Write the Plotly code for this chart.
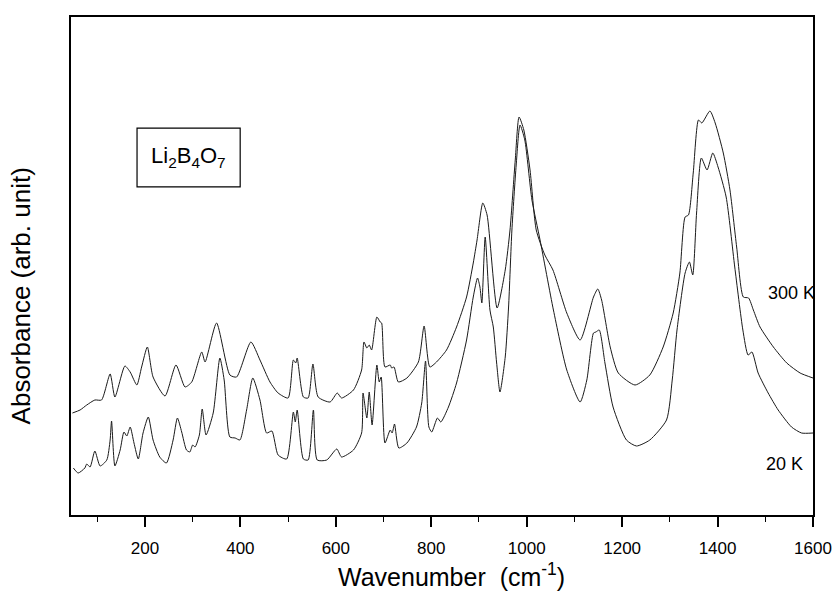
import plotly.graph_objects as go

# 300 K spectrum (upper curve): wavenumber (cm^-1), absorbance (arb. unit)
wn_300 = [48, 64, 78, 95, 109, 127, 137, 158, 169, 183, 193, 205, 217, 242, 265, 284, 298, 319, 326, 350,
          378, 392, 422, 441, 462, 479, 500, 511, 516, 519, 532, 542, 552, 563, 588, 603, 612, 637, 654, 659,
          665, 670, 675, 686, 693, 696, 703, 714, 717, 722, 731, 749, 773, 785, 797, 811, 832, 853, 874, 888,
          896, 908, 917, 938, 955, 965, 976, 984, 994, 1007, 1020, 1038, 1055, 1084, 1112, 1140, 1149, 1157,
          1175, 1192, 1227, 1258, 1286, 1307, 1321, 1332, 1339, 1349, 1360, 1367, 1384, 1395, 1412, 1426, 1440,
          1454, 1465, 1475, 1489, 1517, 1545, 1573, 1600]
abs_300 = [1.02, 1.05, 1.10, 1.15, 1.15, 1.41, 1.18, 1.49, 1.43, 1.30, 1.48, 1.68, 1.38, 1.19, 1.50, 1.28, 1.33, 1.63, 1.53, 1.92,
           1.40, 1.38, 1.73, 1.55, 1.33, 1.22, 1.17, 1.55, 1.52, 1.57, 1.18, 1.17, 1.51, 1.18, 1.13, 1.22, 1.17, 1.25, 1.45, 1.73,
           1.67, 1.70, 1.65, 1.98, 1.93, 1.92, 1.48, 1.50, 1.47, 1.48, 1.33, 1.37, 1.53, 1.89, 1.48, 1.53, 1.65, 1.88, 2.18, 2.52,
           2.75, 3.12, 3.00, 2.07, 2.45, 2.85, 3.55, 3.98, 3.85, 3.45, 2.85, 2.60, 2.45, 2.02, 1.75, 2.18, 2.26, 2.15,
           1.68, 1.42, 1.30, 1.40, 1.68, 2.02, 2.42, 2.98, 3.00, 3.42, 3.95, 3.92, 4.04, 3.92, 3.62, 3.25, 2.68,
           2.18, 2.17, 2.05, 1.88, 1.68, 1.52, 1.42, 1.37]

# 20 K spectrum (lower curve)
wn_20 = [50, 60, 74, 78, 85, 95, 106, 120, 127, 130, 137, 148, 156, 162, 169, 177, 186, 196, 207, 217,
         231, 245, 259, 268, 277, 287, 294, 300, 305, 314, 320, 328, 343, 357, 366, 378, 389, 399, 413, 426,
         441, 455, 466, 479, 497, 511, 515, 519, 532, 542, 553, 561, 581, 602, 612, 637, 654, 657, 665, 670,
         676, 686, 691, 695, 703, 714, 718, 723, 732, 749, 769, 780, 788, 795, 801, 813, 820, 836, 853, 874,
         888, 897, 902, 906, 913, 923, 930, 937, 944, 955, 962, 969, 978, 986, 996, 1011, 1028, 1056, 1084,
         1112, 1126, 1140, 1145, 1152, 1164, 1181, 1209, 1230, 1258, 1293, 1305, 1315, 1332, 1341, 1348, 1356,
         1366, 1378, 1390, 1401, 1418, 1436, 1453, 1464, 1472, 1485, 1506, 1527, 1555, 1576, 1600]
abs_20 = [0.47, 0.42, 0.47, 0.51, 0.48, 0.64, 0.49, 0.55, 0.75, 0.94, 0.49, 0.65, 0.83, 0.79, 0.88, 0.72, 0.56, 0.82, 0.98, 0.75,
          0.58, 0.52, 0.75, 0.97, 0.83, 0.65, 0.63, 0.70, 0.68, 0.80, 1.06, 0.80, 1.02, 1.57, 1.35, 0.78, 0.77, 0.75, 1.05, 1.37,
          1.15, 0.82, 0.84, 0.60, 0.56, 1.03, 0.93, 1.05, 0.56, 0.55, 1.05, 0.55, 0.55, 0.66, 0.58, 0.65, 0.82, 1.22, 0.97, 1.23,
          0.90, 1.50, 1.33, 1.38, 0.72, 0.85, 0.82, 0.91, 0.67, 0.72, 0.88, 1.12, 1.54, 0.88, 0.83, 0.97, 0.93, 1.08, 1.32, 1.75,
          2.18, 2.37, 2.28, 2.12, 2.78, 2.05, 1.88, 1.52, 1.23, 1.58, 2.08, 2.85, 3.50, 3.90, 3.75, 3.15, 2.75, 2.05, 1.45,
          1.13, 1.35, 1.82, 1.83, 1.85, 1.52, 1.08, 0.75, 0.69, 0.75, 0.95, 1.35, 1.85, 2.42, 2.53, 2.40, 3.02,
          3.57, 3.45, 3.62, 3.48, 3.18, 2.48, 1.85, 1.60, 1.63, 1.42, 1.22, 1.05, 0.88, 0.82, 0.82]

x_ticks = [200, 400, 600, 800, 1000, 1200, 1400, 1600]
x_minor = [100, 300, 500, 700, 900, 1100, 1300, 1500]
x_range = [45, 1600]
y_range = [0, 4.98]

line_style = dict(color="#1a1a1a", width=1, shape="spline", smoothing=0.6)
fig = go.Figure()
fig.add_trace(go.Scatter(x=wn_300, y=abs_300, mode="lines", line=line_style, name="300 K"))
fig.add_trace(go.Scatter(x=wn_20, y=abs_20, mode="lines", line=line_style, name="20 K"))

font_family = "Liberation Sans, Arial, sans-serif"
fig.update_layout(
    width=834, height=591,
    margin=dict(l=71, r=21, t=17, b=76),
    paper_bgcolor="white", plot_bgcolor="white",
    showlegend=False,
    font=dict(family=font_family, color="black"),
    xaxis=dict(
        range=x_range, tickvals=x_ticks, ticks="outside", ticklen=10, tickwidth=1.5,
        tickcolor="black", showline=True, linecolor="black", linewidth=2, mirror=True,
        showgrid=False, zeroline=False, tickfont=dict(size=17), ticklabelstandoff=7,
        automargin=False,
        minor=dict(tickvals=x_minor, ticks="outside", ticklen=5, tickcolor="black", tickwidth=1.2),
    ),
    yaxis=dict(
        range=y_range, showticklabels=False, ticks="", showline=True, linecolor="black",
        linewidth=2, mirror=True, showgrid=False, zeroline=False, automargin=False,
    ),
    shapes=[dict(type="rect", xref="paper", yref="paper", x0=0.089, x1=0.228, y0=0.659, y1=0.777,
                 line=dict(color="black", width=1.2))],
    annotations=[
        dict(text="Li<sub>2</sub>B<sub>4</sub>O<sub>7</sub>", xref="paper", yref="paper", x=0.158, y=0.718,
             showarrow=False, font=dict(size=22), xanchor="center", yanchor="middle"),
        dict(text="300 K", xref="paper", yref="paper", x=1.0, y=0.446, showarrow=False,
             font=dict(size=18), xanchor="right", yanchor="middle", xshift=4),
        dict(text="20 K", xref="paper", yref="paper", x=0.989, y=0.102, showarrow=False,
             font=dict(size=18), xanchor="right", yanchor="middle"),
        dict(text="Wavenumber  (cm<sup>-1</sup>)", xref="paper", yref="paper", x=0.513, y=-0.12,
             showarrow=False, font=dict(size=25), xanchor="center", yanchor="middle"),
        dict(text="Absorbance (arb. unit)", xref="paper", yref="paper", x=-0.068, y=0.44,
             showarrow=False, font=dict(size=26), textangle=-90, xanchor="center", yanchor="middle"),
    ],
)

fig.write_html("out.html")
